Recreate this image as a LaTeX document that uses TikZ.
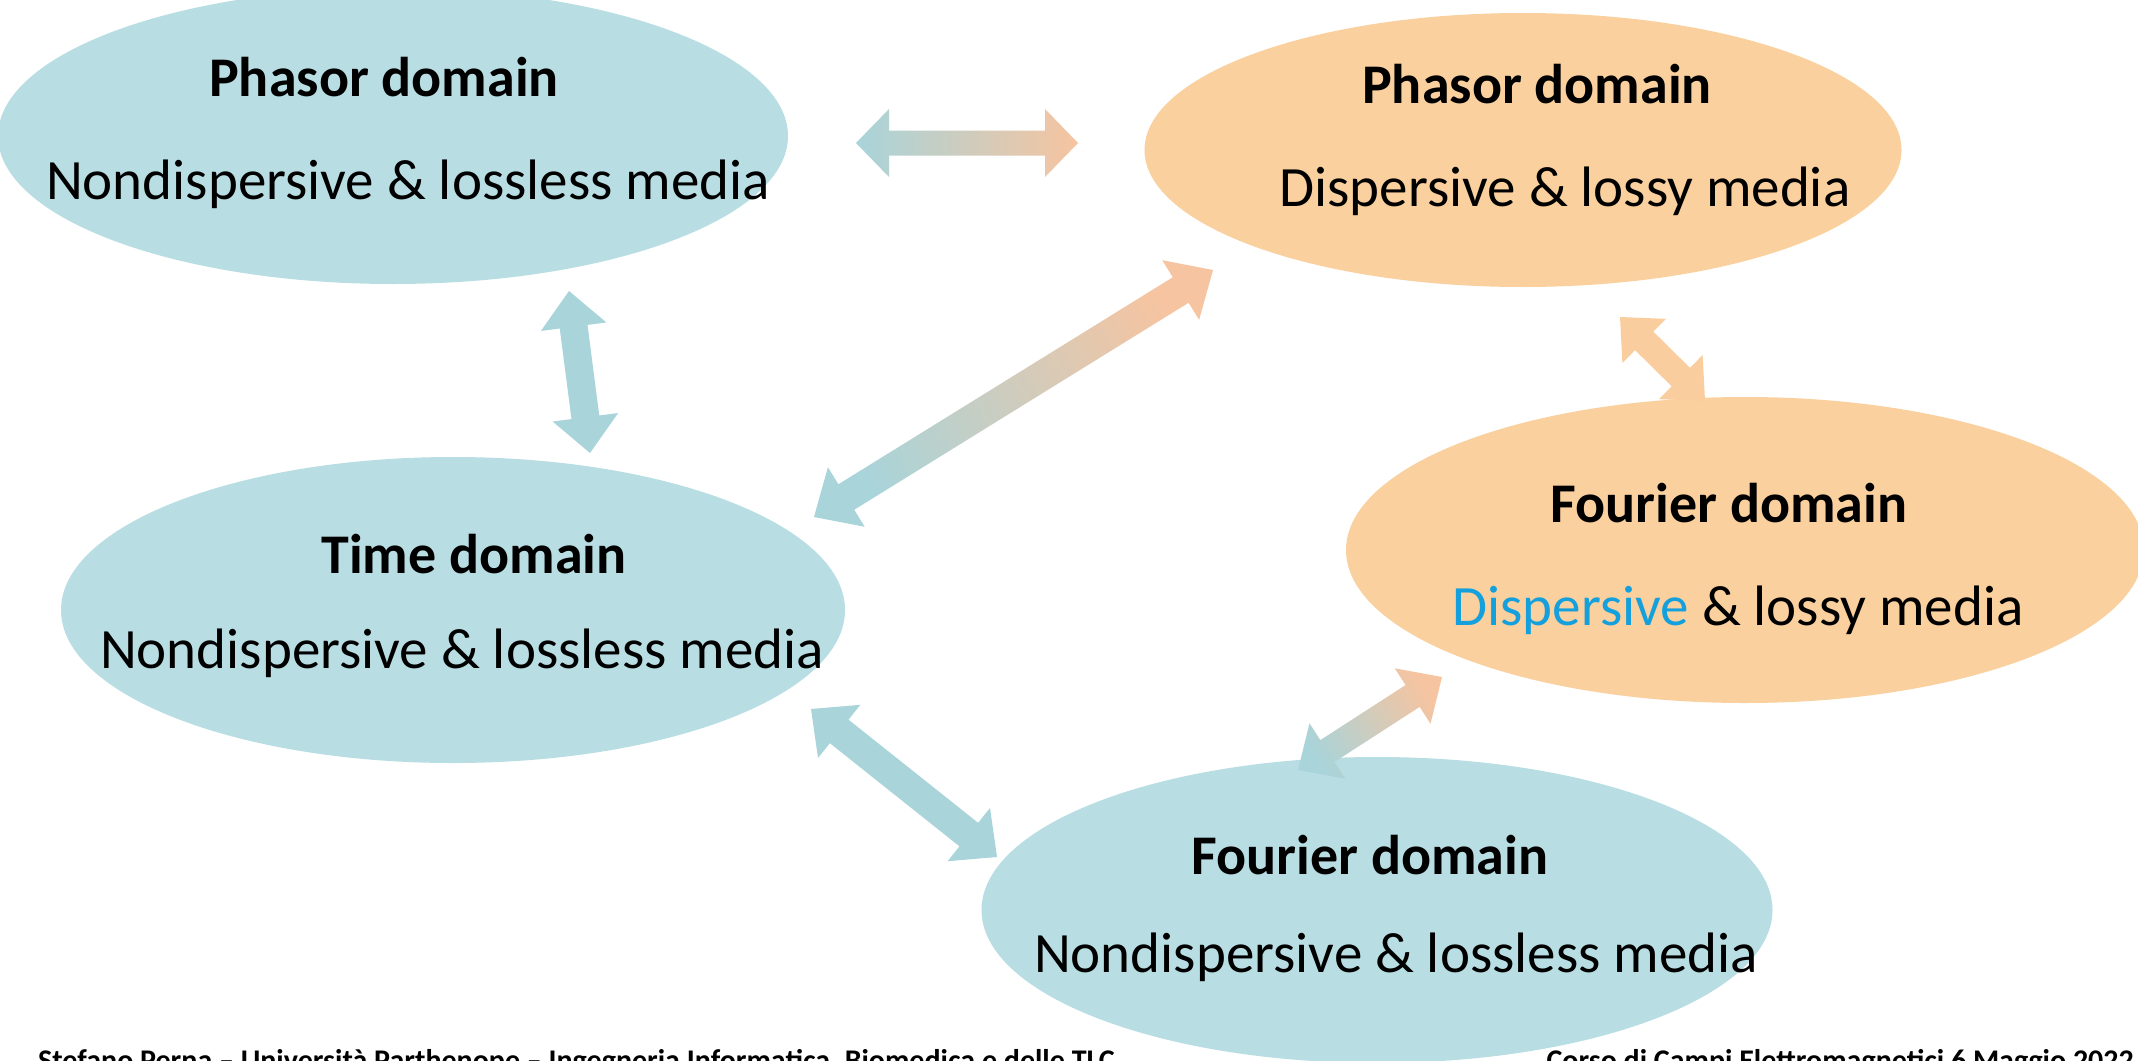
\documentclass[tikz,border=0pt]{standalone}
\usepackage{fontspec}
\setmainfont{Carlito}
\usetikzlibrary{calc,shapes.geometric}
\definecolor{ellblue}{RGB}{184,222,228}
\definecolor{ellorange}{RGB}{250,208,158}
\definecolor{arrblue}{RGB}{168,212,218}
\definecolor{arrorange}{RGB}{246,196,160}
\definecolor{arrsolidor}{RGB}{250,205,158}
\definecolor{txtblue}{RGB}{20,160,220}
% #1 A, #2 B, #3 shaft half width, #4 head half width, #5 head length, #6 path style
\newcommand\blockarrow[6]{%
  \path[#6] (#1)
    -- ($(#1)!#5!(#2)!#4!90:(#2)$)
    -- ($(#1)!#5!(#2)!#3!90:(#2)$)
    -- ($(#2)!#5!(#1)!#3!-90:(#1)$)
    -- ($(#2)!#5!(#1)!#4!-90:(#1)$)
    -- (#2)
    -- ($(#2)!#5!(#1)!#4!90:(#1)$)
    -- ($(#2)!#5!(#1)!#3!90:(#1)$)
    -- ($(#1)!#5!(#2)!#3!-90:(#2)$)
    -- ($(#1)!#5!(#2)!#4!-90:(#2)$)
    -- cycle;}
% gradient arrow: #6 colour at A, #7 colour at B
\newcommand\gradarrow[7]{%
  \pgfmathanglebetweenpoints{\pgfpointanchor{#1}{center}}{\pgfpointanchor{#2}{center}}%
  \let\myang\pgfmathresult
  \pgfmathsetmacro\mysang{\myang+90}%
  \blockarrow{#1}{#2}{#3}{#4}{#5}{shade, top color=#6, bottom color=#7, shading angle=\mysang}}
\tikzset{
  ell/.style={ellipse, inner sep=0pt},
  bluell/.style={ell, fill=ellblue},
  orell/.style={ell, fill=ellorange},
  ttl/.style={anchor=base, inner sep=0pt, font=\fontsize{56}{60}\selectfont\bfseries},
  bdy/.style={anchor=base, inner sep=0pt, font=\fontsize{57}{62}\selectfont},
  foot/.style={anchor=base west, inner sep=0pt, font=\fontsize{30}{33}\selectfont\bfseries}
}
\begin{document}
\begin{tikzpicture}[x=1pt,y=-1pt]
\useasboundingbox[fill=white] (0,0) rectangle (2138,1060);
% ellipses
\node[bluell, minimum width=790pt, minimum height=296pt] (pn) at (393,136) {};
\node[orell, minimum width=757pt, minimum height=274pt] (pd) at (1523,150) {};
\node[bluell, minimum width=784pt, minimum height=306pt] (tn) at (453,610) {};
\node[orell, minimum width=798pt, minimum height=306pt] (fd) at (1745,550) {};
\node[bluell, minimum width=791pt, minimum height=306pt] (fn) at (1377,910) {};
% texts
\node[ttl] (pnt) at (384,96) {Phasor domain};
\node[bdy] (pnb) at (408,199) {Nondispersive \& lossless media};
\node[ttl] (pdt) at (1537,103) {Phasor domain};
\node[bdy] (pdb) at (1565,206) {Dispersive \& lossy media};
\node[ttl] (tnt) at (474,573) {Time domain};
\node[bdy] (tnb) at (462,668) {Nondispersive \& lossless media};
\node[ttl] (fdt) at (1729,522) {Fourier domain};
\node[bdy] (fdb) at (1738,625) {{\color{txtblue}Dispersive} \& lossy media};
\node[ttl] (fnt) at (1370,874) {Fourier domain};
\node[bdy] (fnb) at (1396,972) {Nondispersive \& lossless media};
% arrow end points
\coordinate (a1) at (856,143);  \coordinate (a2) at (1078,143);
\coordinate (b1) at (569,291);  \coordinate (b2) at (590,453);
\coordinate (c1) at (814,517);  \coordinate (c2) at (1213,270);
\coordinate (d1) at (1620,317); \coordinate (d2) at (1705,401);
\coordinate (e1) at (811,709);  \coordinate (e2) at (997,857);
\coordinate (f1) at (1298,770); \coordinate (f2) at (1442,677);
% arrows
\gradarrow{a1}{a2}{12.5pt}{34pt}{33pt}{arrblue}{arrorange}
\blockarrow{b1}{b2}{14pt}{33pt}{36pt}{fill=arrblue}
\gradarrow{c1}{c2}{15pt}{35pt}{38pt}{arrblue}{arrorange}
\blockarrow{d1}{d2}{13pt}{31pt}{34pt}{fill=arrsolidor}
\blockarrow{e1}{e2}{15pt}{34pt}{36pt}{fill=arrblue}
\gradarrow{f1}{f2}{13pt}{33pt}{35pt}{arrblue}{arrorange}
% footer (cut by the lower edge)
\node[foot] (fl) at (38,1070) {Stefano Perna – Università Parthenope – Ingegneria Informatica, Biomedica e delle TLC};
\node[foot, anchor=base east] (fr) at (2134,1070) {Corso di Campi Elettromagnetici 6 Maggio 2022};
\end{tikzpicture}
\end{document}
